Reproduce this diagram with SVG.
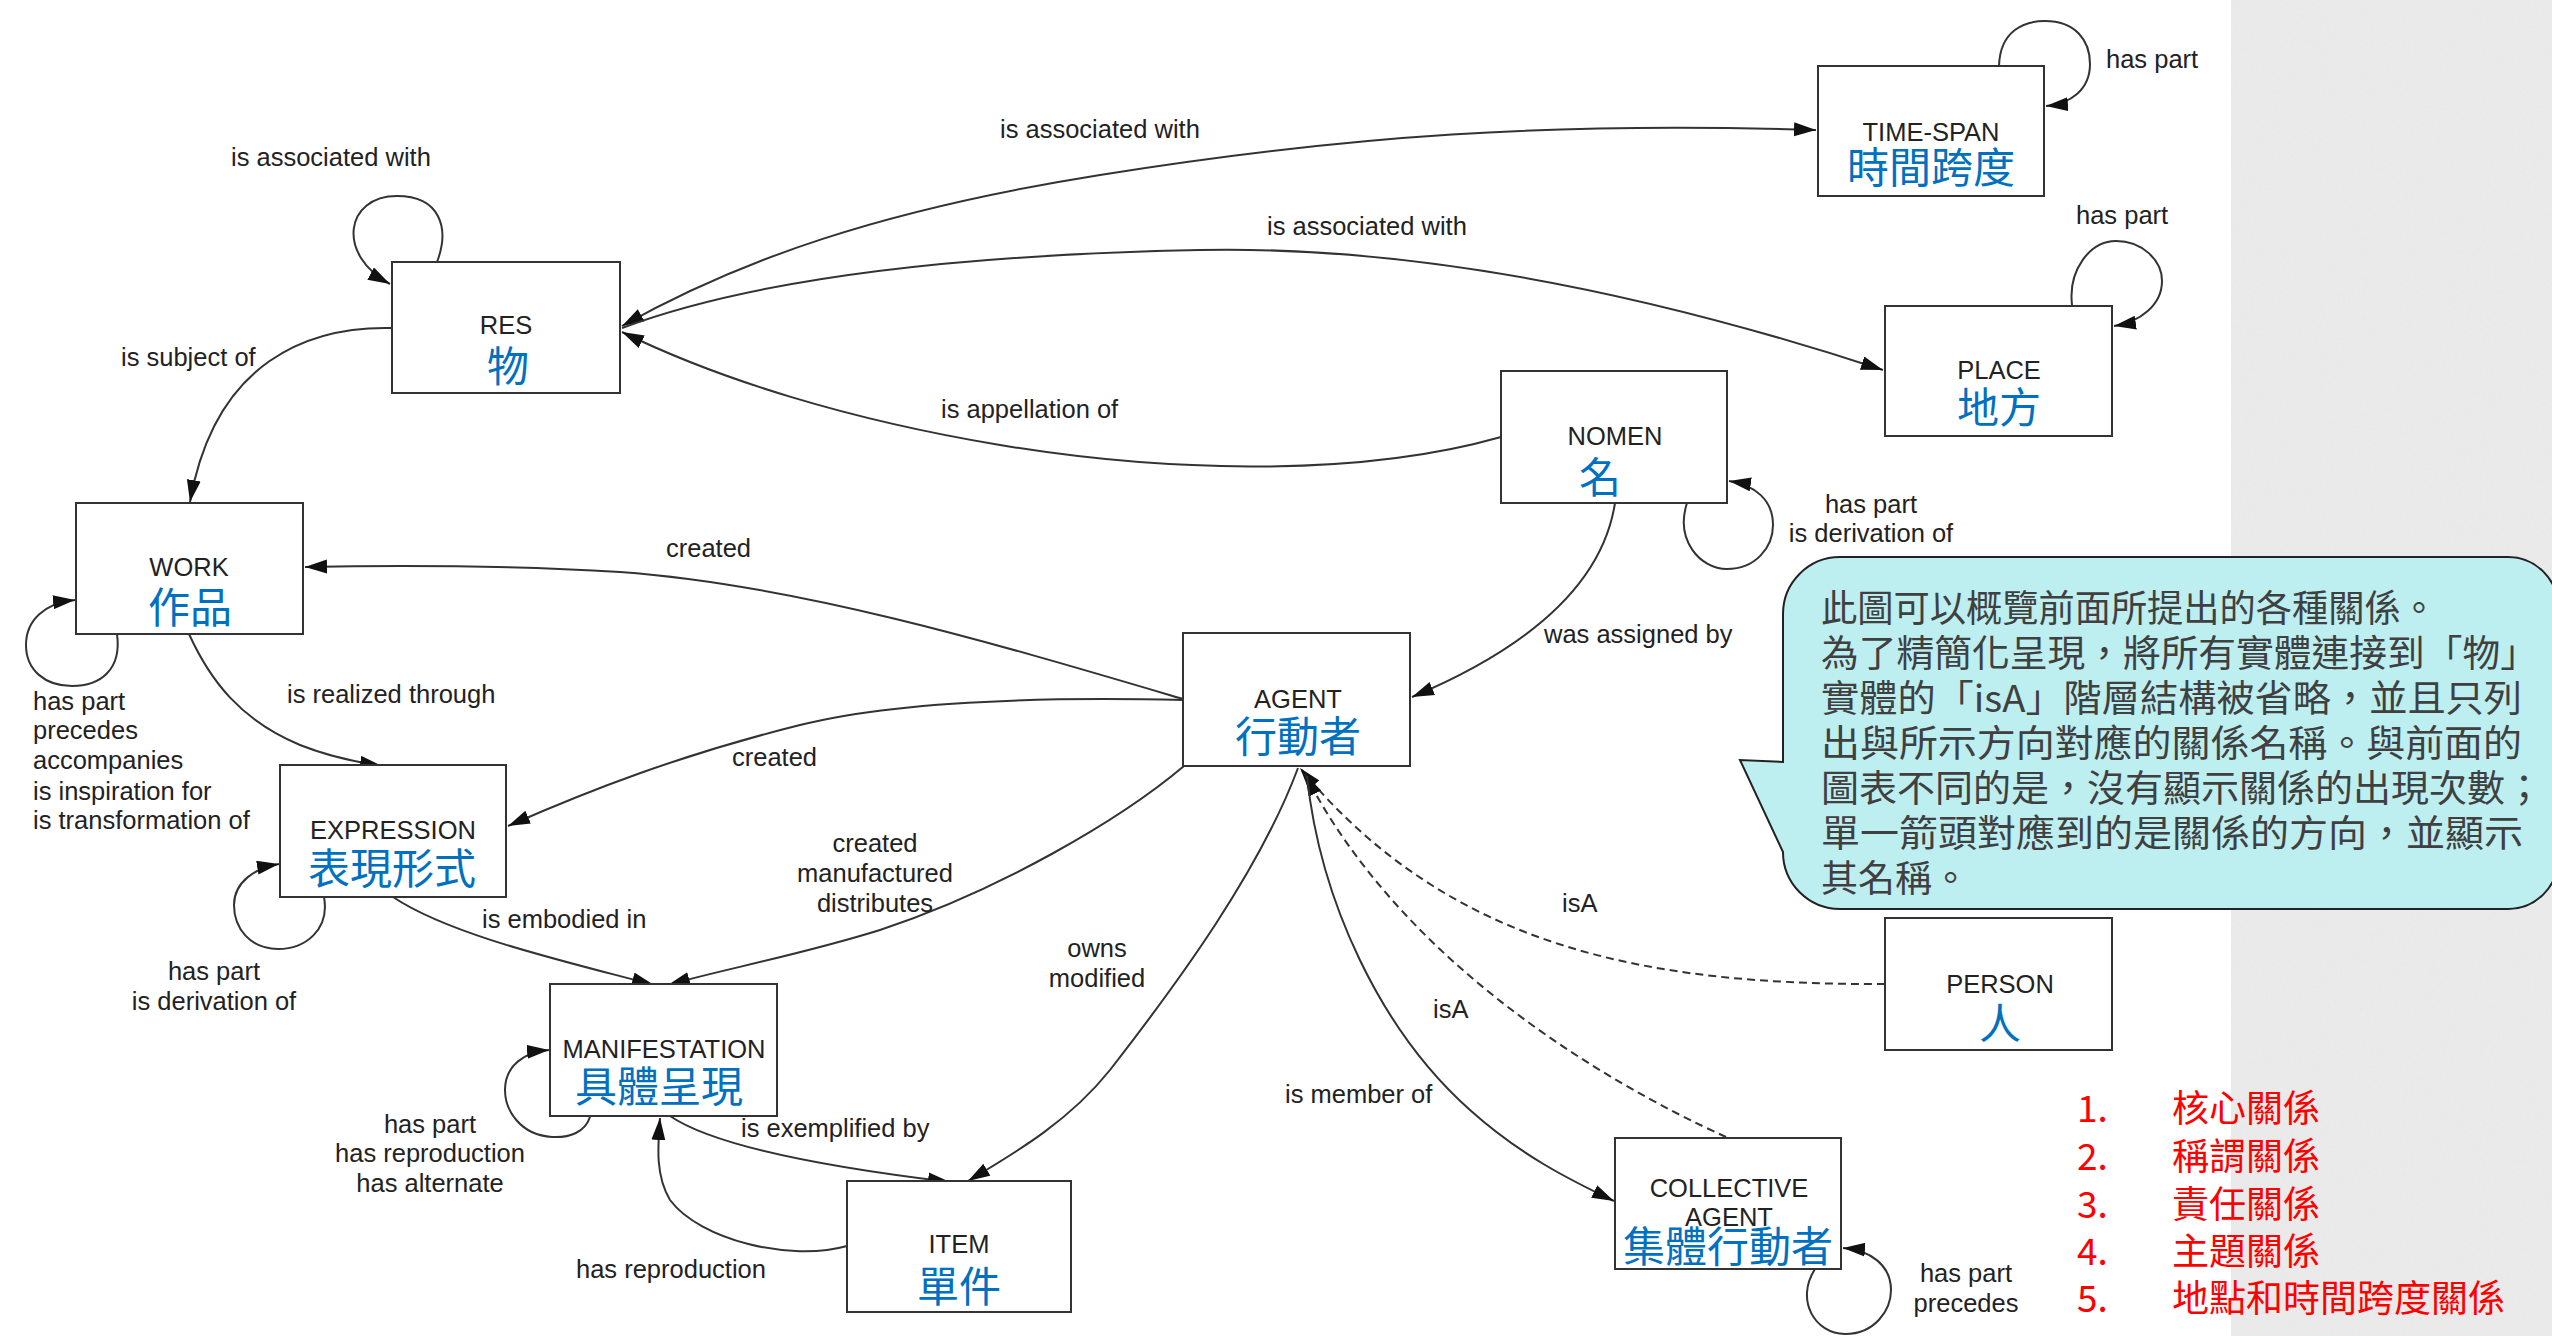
<svg xmlns="http://www.w3.org/2000/svg" width="2552" height="1336" viewBox="0 0 2552 1336">
<defs>
<marker id="ah" markerUnits="userSpaceOnUse" markerWidth="24" markerHeight="16" refX="22" refY="7" orient="auto-start-reverse" viewBox="0 0 24 16">
<path d="M0,0 L22,7 L0,14 Z" fill="#111"/>
</marker>
<filter id="grain" x="0" y="0" width="100%" height="100%">
<feTurbulence type="fractalNoise" baseFrequency="0.35" numOctaves="2" seed="3" result="n"/>
<feColorMatrix in="n" type="matrix" values="0 0 0 0 0.5  0 0 0 0 0.5  0 0 0 0 0.5  0 0 0 0.08 0" result="g"/>
<feComposite in="g" in2="SourceGraphic" operator="over"/>
</filter>
</defs>
<style>
.box{fill:#fff;stroke:#333;stroke-width:2}
.t{font-family:"Liberation Sans",Arial,sans-serif;font-size:25.5px;fill:#222}
.m{text-anchor:middle}
.zh{font-family:"Noto Sans CJK TC","Noto Sans CJK SC",sans-serif;font-size:42px;fill:#0070C0;text-anchor:middle}
.c{fill:none;stroke:#333;stroke-width:2;marker-end:url(#ah)}
.d{stroke-dasharray:8 5}
.note{font-family:"Noto Sans CJK TC","Noto Sans CJK SC",sans-serif;font-size:37px;fill:#404040}
.red{font-family:"Noto Sans CJK TC","Noto Sans CJK SC",sans-serif;font-size:37px;fill:#FF0000}
</style>
<rect x="0" y="0" width="2552" height="1336" fill="#fff"/>
<rect x="2231" y="0" width="321" height="1336" fill="#EBEBEB" filter="url(#grain)"/>

<g id="connectors">
<path class="c" d="M437,262 C450,228 440,196 397,196 C345,196 336,255 390,284"/>
<path class="c" d="M392,328 C310,326 215,360 190,502"/>
<path class="c" d="M622,326 C740,260 880,210 1100,175 C1350,135 1550,122 1816,130" marker-start="url(#ah)"/>
<path class="c" d="M622,328 C750,280 950,255 1200,250 C1450,245 1700,310 1883,370"/>
<path class="c" d="M1501,437 C1350,480 1150,470 1000,445 C850,420 720,380 622,332"/>
<path class="c" d="M1999,66 C2000,30 2025,21 2045,21 C2075,21 2090,40 2090,64 C2090,90 2070,104 2046,106"/>
<path class="c" d="M2072,305 C2068,270 2090,241 2116,241 C2142,241 2162,260 2162,281 C2162,305 2140,322 2114,326"/>
<path class="c" d="M1687,503 C1675,540 1700,569 1727,569 C1755,569 1773,548 1773,525 C1773,500 1755,485 1729,481"/>
<path class="c" d="M1615,503 C1600,600 1500,660 1412,697"/>
<path class="c" d="M1183,699 C1000,645 800,585 620,572 C500,565 400,565 305,567"/>
<path class="c" d="M1183,700 C1050,697 900,700 800,725 C680,755 590,790 508,826"/>
<path class="c" d="M1184,766 C1120,820 1000,890 880,930 C800,955 720,970 668,985"/>
<path class="c" d="M1298,768 C1260,870 1180,980 1110,1070 C1070,1120 1020,1150 968,1181"/>
<path class="c" d="M189,634 C210,680 240,720 300,745 C330,757 355,762 382,766"/>
<path class="c" d="M393,897 C450,935 560,960 654,985"/>
<path class="c" d="M670,1116 C720,1150 850,1170 950,1182"/>
<path class="c" d="M847,1246 C790,1262 700,1240 670,1200 C655,1175 658,1145 660,1118"/>
<path class="c" d="M117,634 C122,670 100,686 72,686 C45,686 26,670 26,645 C26,620 45,603 75,600"/>
<path class="c" d="M324,897 C330,930 305,949 278,949 C250,949 234,928 234,905 C234,882 255,868 279,864"/>
<path class="c" d="M590,1117 C585,1132 570,1138 552,1137 C520,1135 505,1110 505,1090 C505,1065 525,1052 549,1050"/>
<path class="c d" d="M1885,984 C1650,985 1450,950 1300,768"/>
<path class="c d" d="M1726,1137 C1600,1080 1400,960 1305,774"/>
<path class="c" d="M1307,776 C1320,900 1380,1030 1470,1110 C1520,1155 1570,1180 1614,1201"/>
<path class="c" d="M1815,1269 C1795,1300 1815,1334 1845,1334 C1875,1334 1891,1310 1891,1290 C1891,1265 1870,1250 1843,1248"/>
</g>

<g id="labels">
<text class="t" x="231" y="166">is associated with</text>
<text class="t" x="121" y="366">is subject of</text>
<text class="t" x="1000" y="138">is associated with</text>
<text class="t" x="1267" y="235">is associated with</text>
<text class="t" x="941" y="418">is appellation of</text>
<text class="t" x="2106" y="68">has part</text>
<text class="t" x="2076" y="224">has part</text>
<text class="t m" x="1871" y="513">has part</text>
<text class="t m" x="1871" y="542">is derivation of</text>
<text class="t" x="666" y="557">created</text>
<text class="t" x="1544" y="643">was assigned by</text>
<text class="t" x="287" y="703">is realized through</text>
<text class="t" x="33" y="710">has part</text>
<text class="t" x="33" y="739">precedes</text>
<text class="t" x="33" y="769">accompanies</text>
<text class="t" x="33" y="800">is inspiration for</text>
<text class="t" x="33" y="829">is transformation of</text>
<text class="t" x="732" y="766">created</text>
<text class="t m" x="875" y="852">created</text>
<text class="t m" x="875" y="882">manufactured</text>
<text class="t m" x="875" y="912">distributes</text>
<text class="t" x="482" y="928">is embodied in</text>
<text class="t m" x="214" y="980">has part</text>
<text class="t m" x="214" y="1010">is derivation of</text>
<text class="t m" x="1097" y="957">owns</text>
<text class="t m" x="1097" y="987">modified</text>
<text class="t" x="1562" y="912">isA</text>
<text class="t" x="1433" y="1018">isA</text>
<text class="t m" x="430" y="1133">has part</text>
<text class="t m" x="430" y="1162">has reproduction</text>
<text class="t m" x="430" y="1192">has alternate</text>
<text class="t" x="741" y="1137">is exemplified by</text>
<text class="t" x="1285" y="1103">is member of</text>
<text class="t" x="576" y="1278">has reproduction</text>
<text class="t m" x="1966" y="1282">has part</text>
<text class="t m" x="1966" y="1312">precedes</text>
</g>

<g id="res"><rect class="box" x="392" y="262" width="228" height="131"/><text class="t m" x="506" y="334">RES</text><text class="zh" x="508" y="382">物</text></g>
<g id="time-span"><rect class="box" x="1818" y="66" width="226" height="130"/><text class="t m" x="1931" y="141">TIME-SPAN</text><text class="zh" x="1931" y="183">時間跨度</text></g>
<g id="place"><rect class="box" x="1885" y="306" width="227" height="130"/><text class="t m" x="1999" y="379">PLACE</text><text class="zh" x="1999" y="423">地方</text></g>
<g id="nomen"><rect class="box" x="1501" y="371" width="226" height="132"/><text class="t m" x="1615" y="445">NOMEN</text><text class="zh" x="1600" y="493">名</text></g>
<g id="work"><rect class="box" x="76" y="503" width="227" height="131"/><text class="t m" x="189" y="576">WORK</text><text class="zh" x="190" y="623">作品</text></g>
<g id="agent"><rect class="box" x="1183" y="633" width="227" height="133"/><text class="t m" x="1298" y="708">AGENT</text><text class="zh" x="1298" y="752">行動者</text></g>
<g id="expression"><rect class="box" x="280" y="765" width="226" height="132"/><text class="t m" x="393" y="839">EXPRESSION</text><text class="zh" x="392" y="884">表現形式</text></g>
<g id="manifestation"><rect class="box" x="550" y="984" width="227" height="132"/><text class="t m" x="664" y="1058">MANIFESTATION</text><text class="zh" x="659" y="1102">具體呈現</text></g>
<g id="item"><rect class="box" x="847" y="1181" width="224" height="131"/><text class="t m" x="959" y="1253">ITEM</text><text class="zh" x="959" y="1302">單件</text></g>
<g id="person"><rect class="box" x="1885" y="918" width="227" height="132"/><text class="t m" x="2000" y="993">PERSON</text><text class="zh" x="2000" y="1039">人</text></g>
<g id="collective-agent"><rect class="box" x="1615" y="1138" width="226" height="131"/><text class="t m" x="1729" y="1197">COLLECTIVE</text><text class="t m" x="1729" y="1226">AGENT</text><text class="zh" x="1728" y="1262">集體行動者</text></g>

<g id="callout">
<path d="M1840,557 H2508 A50,50 0 0 1 2558,607 V859 A50,50 0 0 1 2508,909 H1840 A57,57 0 0 1 1783,852 L1740,760 L1783,762 V614 A57,57 0 0 1 1840,557 Z" fill="#BDEEF0" stroke="#222" stroke-width="2"/>
<text class="note" x="1821" y="622" textLength="616" lengthAdjust="spacingAndGlyphs">此圖可以概覽前面所提出的各種關係。</text>
<text class="note" x="1821" y="667" textLength="717" lengthAdjust="spacingAndGlyphs">為了精簡化呈現，將所有實體連接到「物」</text>
<text class="note" x="1821" y="712" textLength="701" lengthAdjust="spacingAndGlyphs">實體的「isA」階層結構被省略，並且只列</text>
<text class="note" x="1821" y="757" textLength="701" lengthAdjust="spacingAndGlyphs">出與所示方向對應的關係名稱。與前面的</text>
<text class="note" x="1821" y="802" textLength="722" lengthAdjust="spacingAndGlyphs">圖表不同的是，沒有顯示關係的出現次數；</text>
<text class="note" x="1821" y="847" textLength="702" lengthAdjust="spacingAndGlyphs">單一箭頭對應到的是關係的方向，並顯示</text>
<text class="note" x="1821" y="892">其名稱。</text>
</g>

<g id="legend">
<text class="red" x="2077" y="1122">1.</text><text class="red" x="2172" y="1122">核心關係</text>
<text class="red" x="2077" y="1170">2.</text><text class="red" x="2172" y="1170">稱謂關係</text>
<text class="red" x="2077" y="1218">3.</text><text class="red" x="2172" y="1218">責任關係</text>
<text class="red" x="2077" y="1265">4.</text><text class="red" x="2172" y="1265">主題關係</text>
<text class="red" x="2077" y="1312">5.</text><text class="red" x="2172" y="1312">地點和時間跨度關係</text>
</g>
</svg>
